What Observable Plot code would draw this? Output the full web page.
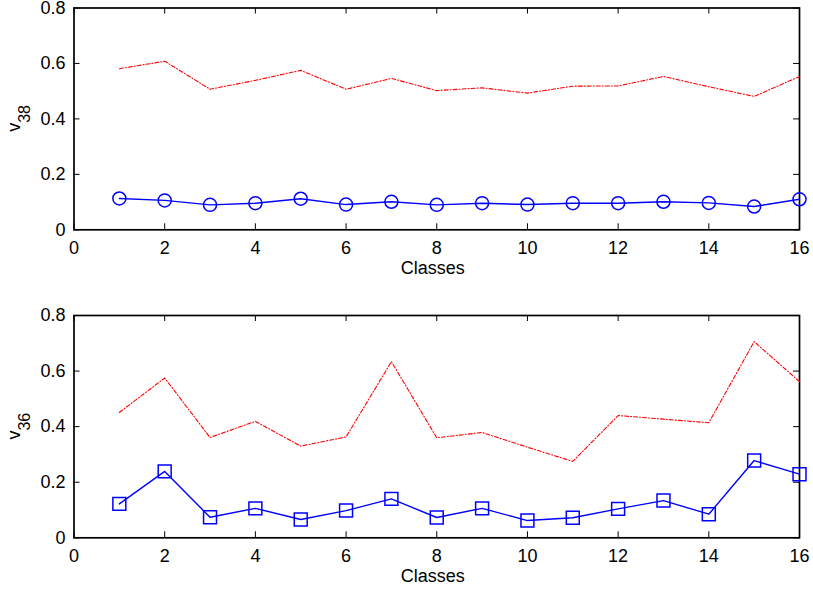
<!DOCTYPE html>
<html>
<head>
<meta charset="utf-8">
<script src="https://cdn.jsdelivr.net/npm/d3@7"></script>
<script src="https://cdn.jsdelivr.net/npm/@observablehq/plot@0.6"></script>
<style>
  html, body { margin: 0; padding: 0; background: #fff; overflow: hidden; }
  #chart svg { display: block; }
</style>
</head>
<body>
<div id="chart"></div>
<script>
const classes = [1,2,3,4,5,6,7,8,9,10,11,12,13,14,15,16];
const v38Red  = [0.581,0.608,0.507,0.539,0.575,0.507,0.546,0.502,0.512,0.493,0.518,0.519,0.553,0.516,0.481,0.553];
const v38Blue = [0.113,0.106,0.090,0.096,0.112,0.091,0.101,0.090,0.096,0.091,0.096,0.096,0.101,0.097,0.084,0.110];
const v36Red  = [0.451,0.575,0.361,0.419,0.330,0.363,0.634,0.360,0.379,0.326,0.275,0.440,0.427,0.414,0.706,0.562];
const v36Blue = [0.122,0.239,0.074,0.106,0.066,0.098,0.140,0.073,0.106,0.062,0.072,0.104,0.134,0.085,0.278,0.229];
const xTicks = [0,2,4,6,8,10,12,14,16];
const yTicks = [0,0.2,0.4,0.6,0.8];
const xLabel = "Classes";
const panels = [
  {name: "v", sub: "38", red: v38Red, blue: v38Blue, symbol: "circle", r: 6.5},
  {name: "v", sub: "36", red: v36Red, blue: v36Blue, symbol: "square", r: 7.3}
];
const layouts = [
  {height: 297, marginTop: 7.5, marginBottom: 67.7},
  {height: 300, marginTop: 18, marginBottom: 59.7}
];
const font = "'Liberation Sans', Arial, Helvetica, sans-serif";
const W = 813, mL = 73.5, mR = 14, tick = 6;

panels.forEach((p, i) => {
  const L = layouts[i];
  const plotW = W - mL - mR;
  const plotH = L.height - L.marginTop - L.marginBottom;
  const rows = classes.map((c, k) => ({c, red: p.red[k], blue: p.blue[k]}));
  const svg = Plot.plot({
    width: W, height: L.height,
    marginLeft: mL, marginRight: mR, marginTop: L.marginTop, marginBottom: L.marginBottom,
    style: {fontFamily: font, fontSize: "18px", background: "#fff", color: "#000", overflow: "visible"},
    x: {domain: [0, 16], axis: null},
    y: {domain: [0, 0.8], axis: null},
    marks: [
      Plot.axisX(xTicks, {anchor: "bottom", tickSize: 0, tickPadding: 11, fontSize: 18, tickFormat: d => String(d), label: null}),
      Plot.axisY(yTicks, {anchor: "left", tickSize: 0, tickPadding: 8.5, fontSize: 18, tickFormat: d => String(d), label: null}),
      Plot.tickX(xTicks, {x: d => d, insetTop: plotH - tick, stroke: "#000", strokeWidth: 1}),
      Plot.tickX(xTicks, {x: d => d, insetBottom: plotH - tick, stroke: "#000", strokeWidth: 1}),
      Plot.tickY(yTicks, {y: d => d, insetRight: plotW - tick, stroke: "#000", strokeWidth: 1}),
      Plot.tickY(yTicks, {y: d => d, insetLeft: plotW - tick, stroke: "#000", strokeWidth: 1}),
      Plot.frame({stroke: "#000", strokeWidth: 1.7}),
      Plot.line(rows, {x: "c", y: "red", stroke: "#ff0000", strokeWidth: 1.1, strokeDasharray: "4,2,1,2"}),
      Plot.line(rows, {x: "c", y: "blue", stroke: "#0000ff", strokeWidth: 1.4}),
      Plot.dot(rows, {x: "c", y: "blue", symbol: p.symbol, r: p.r, stroke: "#0000ff", strokeWidth: 1.5, fill: "none"}),
      Plot.text([xLabel], {frameAnchor: "bottom", text: d => d, lineAnchor: "top", dy: 31.2, dx: -4, fontSize: 18, fill: "#000"})
    ]
  });
  const lab = d3.select(svg).append("text")
    .attr("transform", `translate(20,${L.marginTop + plotH / 2}) rotate(-90)`)
    .attr("text-anchor", "middle")
    .attr("font-family", font)
    .attr("font-size", 18)
    .attr("fill", "#000");
  lab.append("tspan").text(p.name);
  lab.append("tspan").attr("font-size", 16).attr("dy", 10).text(p.sub);
  document.getElementById("chart").appendChild(svg);
});
</script>
</body>
</html>
